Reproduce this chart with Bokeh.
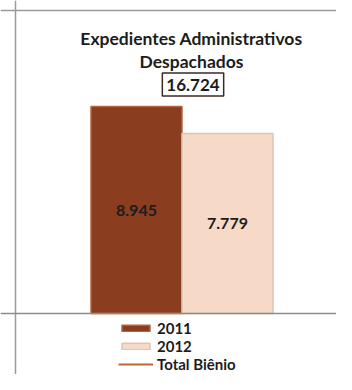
from bokeh.plotting import figure
from bokeh.models import Range1d, Span, Label, Legend, LegendItem, ColumnDataSource
from bokeh.core.properties import value
from bokeh.embed import file_html
from bokeh.resources import INLINE

# ---- data ----
categories = ["2011", "2012"]
values = [8945, 7779]
value_labels = ["8.945", "7.779"]
total = 16724
total_label = "16.724"
title_lines = ["Expedientes Administrativos", "Despachados"]
legend_total = "Total Biênio"
bar_colors = ["#8B3D20", "#F6D9C6"]
bar_lines = ["#B5653E", "#DCC6B6"]

W, H = 336, 374
PX_PER_X = 91.0
X0_PX = 136.0
BASE_PX = 313.0
PX_PER_Y = 207.0 / 8945.0

def xd(px):
    return (px - X0_PX) / PX_PER_X

def yd(py):
    return (BASE_PX - py) / PX_PER_Y

p = figure(width=W, height=H, output_backend="svg", toolbar_location=None,
           x_range=Range1d(xd(0), xd(W)), y_range=Range1d(yd(H), yd(0)),
           min_border=0)
p.axis.visible = False
p.grid.visible = False
p.outline_line_color = None
p.background_fill_color = "white"
p.border_fill_color = "white"

xs = list(range(len(categories)))
src = ColumnDataSource(dict(x=xs, top=values, label=value_labels,
                            mid=[v / 2 for v in values]))

bars = []
for i in range(len(categories)):
    r = p.vbar(x=[xs[i]], top=[values[i]], width=1.0, bottom=0,
               fill_color=bar_colors[i], line_color=bar_lines[i], line_width=1.5)
    bars.append(r)

p.text(x="x", y="mid", text="label", source=src, text_align="center",
       text_baseline="middle", text_font=value("Lato"), text_font_style="bold",
       text_font_size="16px", text_color="#1c1c1c")

total_line = p.line(x=xs, y=[total] * len(xs), line_color="#C0653C", line_width=2)

p.add_layout(Span(location=xd(15), dimension="height", line_color="#9A9A9A", line_width=1.5))
p.add_layout(Span(location=yd(10), dimension="width", line_color="#9A9A9A", line_width=1.5))
p.add_layout(Span(location=0, dimension="width", line_color="#8C8C8C", line_width=1.5))

cx = xd(191)
p.add_layout(Label(x=cx, y=yd(38), text=title_lines[0], text_align="center",
                   text_baseline="alphabetic", text_font="Lato", text_font_style="bold",
                   text_font_size="17.5px", text_color="#1c1c1c"))
p.add_layout(Label(x=cx, y=yd(60.5), text=title_lines[1], text_align="center",
                   text_baseline="alphabetic", text_font="Lato", text_font_style="bold",
                   text_font_size="17.5px", text_color="#1c1c1c"))
p.add_layout(Label(x=xd(192.5), y=yd(84), text=total_label, text_align="center",
                   text_baseline="middle", text_font="Lato", text_font_style="bold",
                   text_font_size="17px", text_color="#1c1c1c",
                   border_line_color="#3a2a22", border_line_width=1.5,
                   background_fill_color="white",
                   padding=dict(left=4, right=4, top=6, bottom=5)))

legend = Legend(items=[LegendItem(label=categories[0], renderers=[bars[0]]),
                       LegendItem(label=categories[1], renderers=[bars[1]]),
                       LegendItem(label=legend_total, renderers=[total_line])],
                location=(118, 1), orientation="vertical",
                glyph_width=35, glyph_height=8, label_height=15, spacing=0,
                padding=0, margin=0, label_standoff=4,
                label_text_font="Lato", label_text_font_style="bold",
                label_text_font_size="15px", label_text_color="#1c1c1c",
                border_line_color=None, background_fill_alpha=0)
p.add_layout(legend)

open("out.html", "w").write(file_html(p, INLINE))
